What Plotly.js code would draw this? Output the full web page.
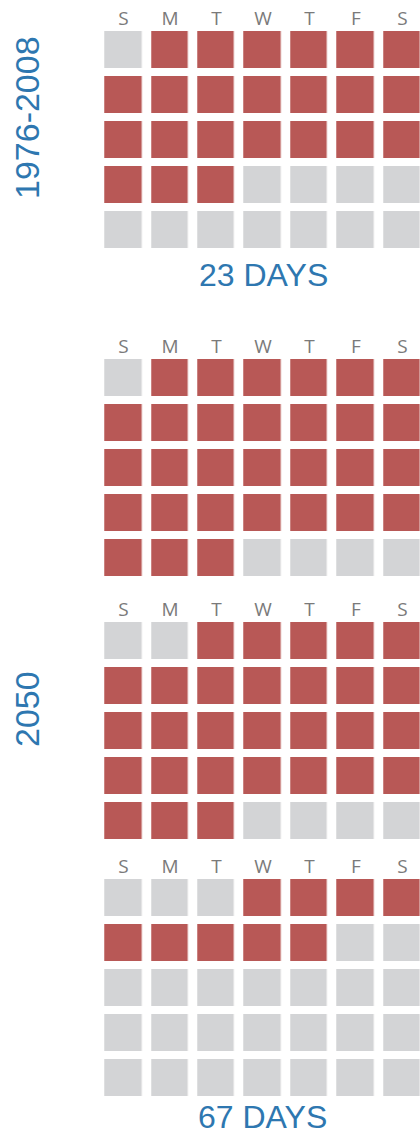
<!DOCTYPE html>
<html>
<head>
<meta charset="utf-8">
<script src="https://cdn.plot.ly/plotly-3.0.1.min.js"></script>
<style>
  html, body { margin: 0; padding: 0; background: #fff; }
  #plot { width: 420px; height: 1136px; }
</style>
</head>
<body>
<div id="plot"></div>
<script>
// day-of-week labels across the top of each calendar
let days = ["S", "M", "T", "W", "T", "F", "S"];
let dayIdx = [0, 1, 2, 3, 4, 5, 6];
let weekIdx = [0, 1, 2, 3, 4];

// 1 = hot day, 0 = not (one row per week)
let past = [
  [0, 1, 1, 1, 1, 1, 1],
  [1, 1, 1, 1, 1, 1, 1],
  [1, 1, 1, 1, 1, 1, 1],
  [1, 1, 1, 0, 0, 0, 0],
  [0, 0, 0, 0, 0, 0, 0]
];

let future1 = [
  [0, 1, 1, 1, 1, 1, 1],
  [1, 1, 1, 1, 1, 1, 1],
  [1, 1, 1, 1, 1, 1, 1],
  [1, 1, 1, 1, 1, 1, 1],
  [1, 1, 1, 0, 0, 0, 0]
];

let future2 = [
  [0, 0, 1, 1, 1, 1, 1],
  [1, 1, 1, 1, 1, 1, 1],
  [1, 1, 1, 1, 1, 1, 1],
  [1, 1, 1, 1, 1, 1, 1],
  [1, 1, 1, 0, 0, 0, 0]
];

let future3 = [
  [0, 0, 0, 1, 1, 1, 1],
  [1, 1, 1, 1, 1, 0, 0],
  [0, 0, 0, 0, 0, 0, 0],
  [0, 0, 0, 0, 0, 0, 0],
  [0, 0, 0, 0, 0, 0, 0]
];

let periodLabels = ["1976-2008", "2050"];
let totalLabels = ["23 DAYS", "67 DAYS"];

let red = "#b85856";
let grey = "#d3d4d6";
let blue = "#2e77b0";

let H = 1136;
function py(px) { return 1 - px / H; }

// vertical pixel extents of each calendar block
let blocks = [
  { z: past, top: 27, bottom: 252 },
  { z: future1, top: 355, bottom: 580 },
  { z: future2, top: 618, bottom: 843 },
  { z: future3, top: 875, bottom: 1100 }
];

let data = [];
let layout = {
  width: 420,
  height: H,
  margin: { l: 0, r: 0, t: 0, b: 0 },
  paper_bgcolor: "#fff",
  plot_bgcolor: "#fff",
  showlegend: false,
  hovermode: false,
  annotations: []
};

blocks.forEach((b, i) => {
  let n = i === 0 ? "" : String(i + 1);
  data.push({
    type: "heatmap",
    z: b.z,
    x: dayIdx,
    y: weekIdx,
    xaxis: "x" + n,
    yaxis: "y" + n,
    colorscale: [[0, grey], [1, red]],
    zmin: 0,
    zmax: 1,
    showscale: false,
    xgap: 9.5,
    ygap: 8,
    hoverinfo: "skip"
  });
  layout["xaxis" + n] = {
    domain: [100.25 / 420, 1],
    range: [-0.5, 6.377],
    anchor: "y" + n,
    side: "top",
    tickvals: dayIdx,
    ticktext: days,
    ticks: "",
    ticklabelstandoff: -3,
    showgrid: false,
    zeroline: false,
    showline: false,
    fixedrange: true,
    tickfont: { family: "Open Sans, sans-serif", size: 19, color: "#7a7a7a" }
  };
  layout["yaxis" + n] = {
    domain: [py(b.bottom), py(b.top)],
    range: [4.5, -0.5],
    anchor: "x" + n,
    ticks: "",
    showticklabels: false,
    showgrid: false,
    zeroline: false,
    showline: false,
    fixedrange: true
  };
});

let sideFont = { family: "Liberation Sans, Arial, sans-serif", size: 34, color: blue };
let totalFont = { family: "Liberation Sans, Arial, sans-serif", size: 32, color: blue };

layout.annotations.push(
  { text: periodLabels[0], xref: "paper", yref: "paper", x: 27 / 420, y: py(118),
    xanchor: "center", yanchor: "middle", textangle: -90, showarrow: false, font: sideFont },
  { text: periodLabels[1], xref: "paper", yref: "paper", x: 27 / 420, y: py(709),
    xanchor: "center", yanchor: "middle", textangle: -90, showarrow: false, font: sideFont },
  { text: totalLabels[0], xref: "paper", yref: "paper", x: 263.5 / 420, y: py(275),
    xanchor: "center", yanchor: "middle", showarrow: false, font: totalFont },
  { text: totalLabels[1], xref: "paper", yref: "paper", x: 262.5 / 420, y: 0,
    xanchor: "center", yanchor: "bottom", borderpad: 0, showarrow: false, font: totalFont }
);

Plotly.newPlot("plot", data, layout, { staticPlot: true });
</script>
</body>
</html>
